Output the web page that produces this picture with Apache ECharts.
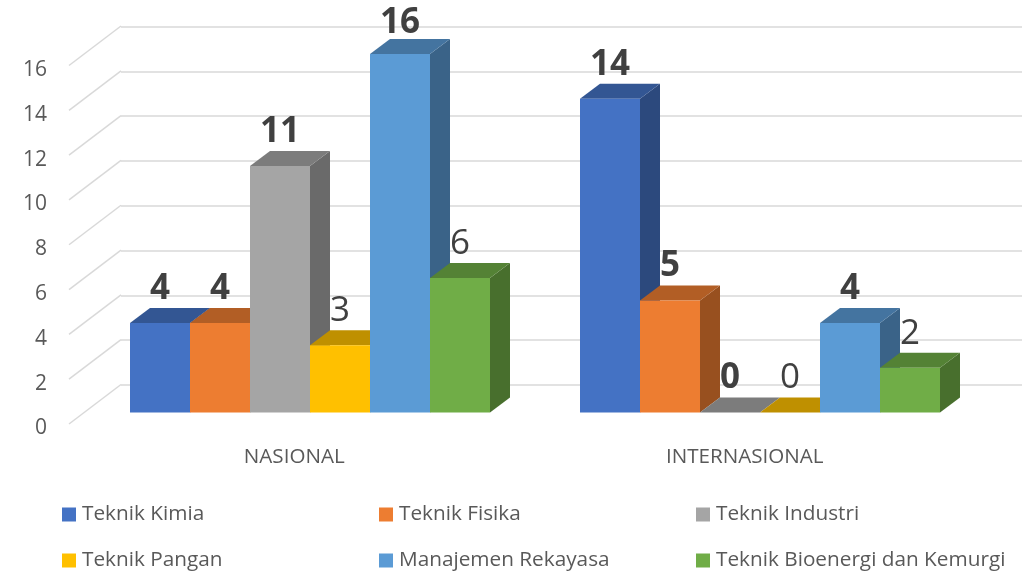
<!DOCTYPE html>
<html>
<head>
<meta charset="utf-8">
<style>
  html, body { margin: 0; padding: 0; background: #fff; }
  #chart { width: 1033px; height: 572px; }
</style>
</head>
<body>
<div id="chart"></div>
<script src="https://cdn.jsdelivr.net/npm/echarts@6/dist/echarts.min.js"></script>
<script>
const categories = ['NASIONAL', 'INTERNASIONAL']
const teknikKimia = [4, 14]
const teknikFisika = [4, 5]
const teknikIndustri = [11, 0]
const teknikPangan = [3, 0]
const manajemenRekayasa = [16, 4]
const teknikBioenergi = [6, 2]
const ticks = [0, 2, 4, 6, 8, 10, 12, 14, 16]

const fontFamily = '"Open Sans", sans-serif'
const textColor = '#595959'
const gridColor = '#d9d9d9'

// 3d look: depth of the bars and of the whole floor, in pixels
const barDepth = [20, 15]
const floorDepth = [52, 39.5]
const barShare = 60 / 450

function shade(hex, k) {
  const n = parseInt(hex.slice(1), 16)
  const c = [n >> 16, (n >> 8) & 255, n & 255].map(v => Math.round(v * k))
  return `rgb(${c.join(',')})`
}

function barSeries(name, values, color, index, bold) {
  return {
    name,
    type: 'custom',
    xAxisIndex: 0,
    yAxisIndex: 0,
    z: 3,
    silent: true,
    itemStyle: { color },
    data: values.map((v, i) => [categories[i], v]),
    renderItem(params, api) {
      const top = api.coord([api.value(0), api.value(1)])
      const base = api.coord([api.value(0), 0])
      const w = api.size([1, 0])[0] * barShare
      const x0 = top[0] + (index - 3) * w
      const x1 = x0 + w
      const dx = barDepth[0]
      const dy = barDepth[1]
      return {
        type: 'group',
        children: [
          {
            type: 'polygon',
            shape: { points: [[x1, top[1]], [x1 + dx, top[1] - dy], [x1 + dx, base[1] - dy], [x1, base[1]]] },
            style: { fill: shade(color, 0.64) }
          },
          {
            type: 'polygon',
            shape: { points: [[x0, top[1]], [x0 + dx, top[1] - dy], [x1 + dx, top[1] - dy], [x1, top[1]]] },
            style: { fill: shade(color, 0.75) }
          },
          {
            type: 'rect',
            shape: { x: x0, y: top[1], width: w, height: base[1] - top[1] },
            style: { fill: color }
          },
          {
            type: 'text',
            z2: 50,
            style: {
              x: x0 + w / 2,
              // the tallest label gets pushed down to stay inside the chart
              y: Math.max(top[1] - 34, 23.5),
              text: String(api.value(1)),
              align: 'center',
              verticalAlign: 'middle',
              fill: '#404040',
              font: `${bold ? 'bold' : 'normal'} 35px ${fontFamily}`
            }
          }
        ]
      }
    }
  }
}

function legendAt(name, left, top) {
  return {
    data: [name],
    left,
    top,
    icon: 'rect',
    itemWidth: 14,
    itemHeight: 14,
    itemGap: 6,
    padding: 0,
    selectedMode: false,
    textStyle: { color: textColor, fontSize: 20.75, fontFamily, padding: [0, 0, 0, 1] }
  }
}

const chart = echarts.init(document.getElementById('chart'))
chart.setOption({
  animation: false,
  backgroundColor: '#fff',
  grid: [
    // plane the bars stand on
    { left: 85, top: 54, width: 900, height: 358.5 },
    // front edge, carries the category labels and side lines
    { left: 69, top: 65.5, width: 901, height: 358.5 },
    // back wall
    { left: 121, top: 26.5, width: 901, height: 358.5 },
    // value labels sit a little under the front edge
    { left: 69, top: 70, width: 901, height: 358.5 }
  ],
  xAxis: [
    { gridIndex: 0, type: 'category', data: categories, show: false },
    {
      gridIndex: 1,
      type: 'category',
      data: categories,
      axisLine: { show: false },
      axisTick: { show: false },
      axisLabel: { color: textColor, fontSize: 20.6, fontFamily, margin: 23 }
    },
    { gridIndex: 2, type: 'category', data: categories, show: false },
    { gridIndex: 3, type: 'category', data: categories, show: false }
  ],
  yAxis: [
    { gridIndex: 0, type: 'value', min: 0, max: 16, interval: 2, show: false },
    { gridIndex: 1, type: 'value', min: 0, max: 16, interval: 2, show: false },
    {
      gridIndex: 2,
      type: 'value',
      min: 0,
      max: 16,
      interval: 2,
      axisLine: { show: false },
      axisTick: { show: false },
      axisLabel: { show: false },
      splitLine: { lineStyle: { color: gridColor, width: 1.5 } }
    },
    {
      gridIndex: 3,
      type: 'value',
      min: 0,
      max: 16,
      interval: 2,
      splitLine: { show: false },
      axisLine: { show: false },
      axisTick: { show: false },
      axisLabel: { color: textColor, fontSize: 21, fontFamily, margin: 22 }
    }
  ],
  legend: [
    legendAt('Teknik Kimia', 62, 504),
    legendAt('Teknik Fisika', 379, 504),
    legendAt('Teknik Industri', 696, 504),
    legendAt('Teknik Pangan', 62, 550),
    legendAt('Manajemen Rekayasa', 379, 550),
    legendAt('Teknik Bioenergi dan Kemurgi', 696, 550)
  ],
  series: [
    {
      // side wall lines running from the front labels to the back wall
      type: 'custom',
      xAxisIndex: 1,
      yAxisIndex: 1,
      z: 1,
      silent: true,
      data: ticks.map(t => [categories[0], t]),
      renderItem(params, api) {
        const y = api.coord([api.value(0), api.value(1)])[1]
        const x = params.coordSys.x
        return {
          type: 'line',
          shape: { x1: x, y1: y, x2: x + floorDepth[0], y2: y - floorDepth[1] },
          style: { stroke: gridColor, lineWidth: 1.5 }
        }
      }
    },
    barSeries('Teknik Kimia', teknikKimia, '#4472c4', 0, true),
    barSeries('Teknik Fisika', teknikFisika, '#ed7d31', 1, true),
    barSeries('Teknik Industri', teknikIndustri, '#a5a5a5', 2, true),
    barSeries('Teknik Pangan', teknikPangan, '#ffc000', 3, false),
    barSeries('Manajemen Rekayasa', manajemenRekayasa, '#5b9bd5', 4, true),
    barSeries('Teknik Bioenergi dan Kemurgi', teknikBioenergi, '#70ad47', 5, false)
  ]
})
</script>
</body>
</html>
